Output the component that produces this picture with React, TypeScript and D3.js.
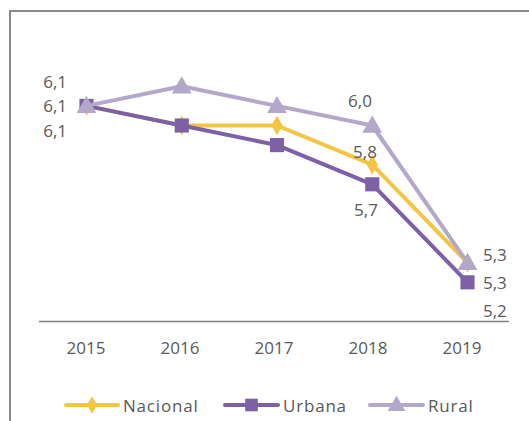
import React from "react";
import * as d3 from "d3";

const years = ["2015", "2016", "2017", "2018", "2019"];
const nacional = [6.1, 6.0, 6.0, 5.8, 5.3];
const urbana = [6.1, 6.0, 5.9, 5.7, 5.2];
const rural = [6.1, 6.2, 6.1, 6.0, 5.3];
const seriesNames = ["Nacional", "Urbana", "Rural"];
const labeledIdx = [0, 3, 4];

const W = 529;
const H = 421;
const FONT = "'Open Sans', 'DejaVu Sans', sans-serif";
const TXT = "#595959";
const colors = ["#F4C542", "#7D60A5", "#B4A8CA"];
const symbols = [d3.symbolDiamond, d3.symbolSquare, d3.symbolTriangle];
const symSizes = [110, 200, 170];

// label placement (position styles) per series for the labeled indices
const labelPos: Record<string, { x: number; y: number; anchor: string }[]> = {
  Nacional: [
    { x: 67, y: 105, anchor: "end" },
    { x: 365, y: 151, anchor: "middle" },
    { x: 483, y: 282, anchor: "start" },
  ],
  Urbana: [
    { x: 67, y: 130, anchor: "end" },
    { x: 366, y: 209, anchor: "middle" },
    { x: 483, y: 310, anchor: "start" },
  ],
  Rural: [
    { x: 67, y: 81, anchor: "end" },
    { x: 360, y: 100, anchor: "middle" },
    { x: 483, y: 254, anchor: "start" },
  ],
};

export default function App() {
  const data = [nacional, urbana, rural];
  const xAxis = d3.scaleBand<string>().domain(years).range([39, 509]);
  const x = d3.scalePoint<string>().domain(years).range([86.5, 467.5]);
  const y = d3.scaleLinear().domain([5, 6.5]).range([321.5, 321.5 - 1.5 * 196]);
  const line = d3
    .line<number>()
    .x((_, i) => x(years[i]) as number)
    .y((d) => y(d));
  const fmt = (v: number) => v.toFixed(1).replace(".", ",");

  const legendItems = [
    { x0: 66, x1: 118, tx: 123 },
    { x0: 225, x1: 278, tx: 283 },
    { x0: 370, x1: 423, tx: 428 },
  ];

  return (
    <svg
      width={W}
      height={H}
      style={{ position: "absolute", left: 0, top: 0, background: "#fff" }}
      fontFamily={FONT}
    >
      <rect x={0} y={0} width={W} height={H} fill="#fff" />
      {/* frame */}
      <path d={`M10,${H} L10,11 L${W},11`} fill="none" stroke="#8a8a8a" strokeWidth={2} />
      {/* x axis */}
      <line x1={39} x2={509} y1={321.5} y2={321.5} stroke="#808080" strokeWidth={1.5} />
      {years.map((yr) => (
        <text
          key={yr}
          x={(xAxis(yr) as number) + xAxis.bandwidth() / 2}
          y={347}
          textAnchor="middle"
          dominantBaseline="central"
          fontSize={17}
          fill={TXT}
        >
          {yr}
        </text>
      ))}
      {/* series */}
      {data.map((vals, si) => (
        <g key={seriesNames[si]}>
          <path d={line(vals) as string} fill="none" stroke={colors[si]} strokeWidth={4} strokeLinejoin="round" />
          {vals.map((v, i) => (
            <path
              key={i}
              d={d3.symbol().type(symbols[si]).size(symSizes[si])() as string}
              transform={`translate(${x(years[i])},${y(v) + (si === 2 ? 1.5 : 0)})`}
              fill={colors[si]}
            />
          ))}
        </g>
      ))}
      {/* data labels */}
      {data.map((vals, si) =>
        labeledIdx.map((idx, k) => {
          const p = labelPos[seriesNames[si]][k];
          return (
            <text
              key={`${si}-${idx}`}
              x={p.x}
              y={p.y}
              textAnchor={p.anchor as any}
              dominantBaseline="central"
              fontSize={17}
              fill={TXT}
            >
              {fmt(vals[idx])}
            </text>
          );
        })
      )}
      {/* legend */}
      {seriesNames.map((name, si) => {
        const it = legendItems[si];
        const cx = (it.x0 + it.x1) / 2;
        return (
          <g key={name}>
            <line x1={it.x0} x2={it.x1} y1={405} y2={405} stroke={colors[si]} strokeWidth={4} strokeLinecap="round" />
            <path
              d={d3.symbol().type(symbols[si]).size(symSizes[si] * 0.8)() as string}
              transform={`translate(${cx},${405 + (si === 2 ? 1 : 0)})`}
              fill={colors[si]}
            />
            <text x={it.tx} y={405} dominantBaseline="central" fontSize={17} letterSpacing={0.8} fill={TXT}>
              {name}
            </text>
          </g>
        );
      })}
    </svg>
  );
}
